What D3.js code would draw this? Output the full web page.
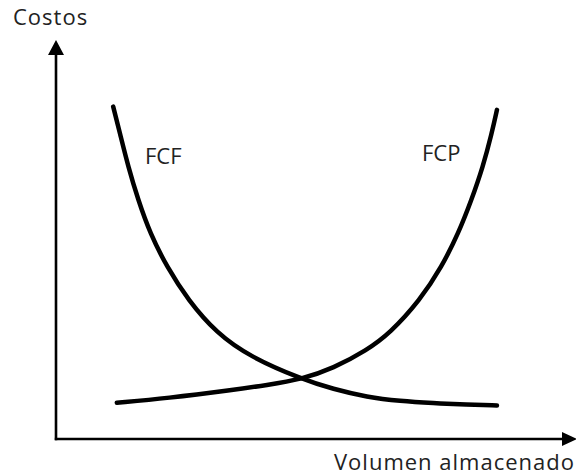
<!DOCTYPE html>
<html>
<head>
<meta charset="utf-8">
<script src="https://cdn.jsdelivr.net/npm/d3@7"></script>
<style>
  body { margin: 0; background: #fff; }
  text { font-family: "Open Sans", sans-serif; fill: #222; }
</style>
</head>
<body>
<div id="chart"></div>
<script>
// abstract units: x = volumen (0-100), y = costos (0-100)
const fcfX = [11.0, 12.3, 13.9, 15.8, 18.1, 21.3, 25.4, 30.9, 37.3, 47.3, 53.3, 59.8, 66.2, 72.5, 79.0, 84.8];
const fcfY = [83.3, 76.6, 68.2, 59.9, 51.5, 43.2, 34.8, 26.5, 20.6, 15.0, 12.5, 10.5, 9.5, 9.0, 8.6, 8.4];

const fcpX = [11.7, 21.3, 34.1, 40.5, 47.3, 53.3, 59.8, 64.2, 70.0, 74.2, 77.4, 79.9, 82.1, 83.8, 84.8];
const fcpY = [9.1, 10.2, 12.3, 13.5, 15.0, 17.7, 22.3, 26.5, 34.8, 43.2, 51.6, 59.9, 68.2, 76.6, 82.5];

const curveLabels = ["FCF", "FCP"];
const axisLabels = ["Costos", "Volumen almacenado"];

const width = 576;
const height = 476;

const svg = d3.select("#chart")
    .append("svg")
    .attr("width", width)
    .attr("height", height);

const x = d3.scaleLinear().domain([0, 100]).range([56, 576]);
const y = d3.scaleLinear().domain([0, 100]).range([439, 40]);

// axes with arrowheads
svg.append("line")
    .attr("x1", x(0)).attr("y1", y(0) + 1.2)
    .attr("x2", x(0)).attr("y2", y(100) + 12)
    .attr("stroke", "#000").attr("stroke-width", 2.6);

svg.append("line")
    .attr("x1", x(0) - 1.2).attr("y1", y(0))
    .attr("x2", x(100) - 12).attr("y2", y(0))
    .attr("stroke", "#000").attr("stroke-width", 2.6);

svg.append("path")
    .attr("d", `M${x(0)},${y(100)} L${x(0) - 8},${y(100) + 15} L${x(0) + 8},${y(100) + 15} Z`)
    .attr("fill", "#000");

svg.append("path")
    .attr("d", `M${x(100) + 1},${y(0)} L${x(100) - 14},${y(0) - 7} L${x(100) - 14},${y(0) + 7} Z`)
    .attr("fill", "#000");

const line = d3.line()
    .x(d => x(d[0]))
    .y(d => y(d[1]))
    .curve(d3.curveBasis);

const series = [
    d3.zip(fcfX, fcfY),
    d3.zip(fcpX, fcpY)
];

svg.selectAll("path.curve")
    .data(series)
    .enter().append("path")
    .attr("class", "curve")
    .attr("d", line)
    .attr("fill", "none")
    .attr("stroke", "#000")
    .attr("stroke-width", 4.5)
    .attr("stroke-linecap", "round");

// labels
svg.append("text")
    .attr("x", 145).attr("y", 164)
    .style("font-size", "22px")
    .text(curveLabels[0]);

svg.append("text")
    .attr("x", 422).attr("y", 161)
    .style("font-size", "22px")
    .text(curveLabels[1]);

svg.append("text")
    .attr("x", 13).attr("y", 25)
    .style("font-size", "22px")
    .style("letter-spacing", "1px")
    .text(axisLabels[0]);

svg.append("text")
    .attr("x", 575).attr("y", 470)
    .attr("text-anchor", "end")
    .style("font-size", "22px")
    .style("letter-spacing", "1px")
    .text(axisLabels[1]);
</script>
</body>
</html>
